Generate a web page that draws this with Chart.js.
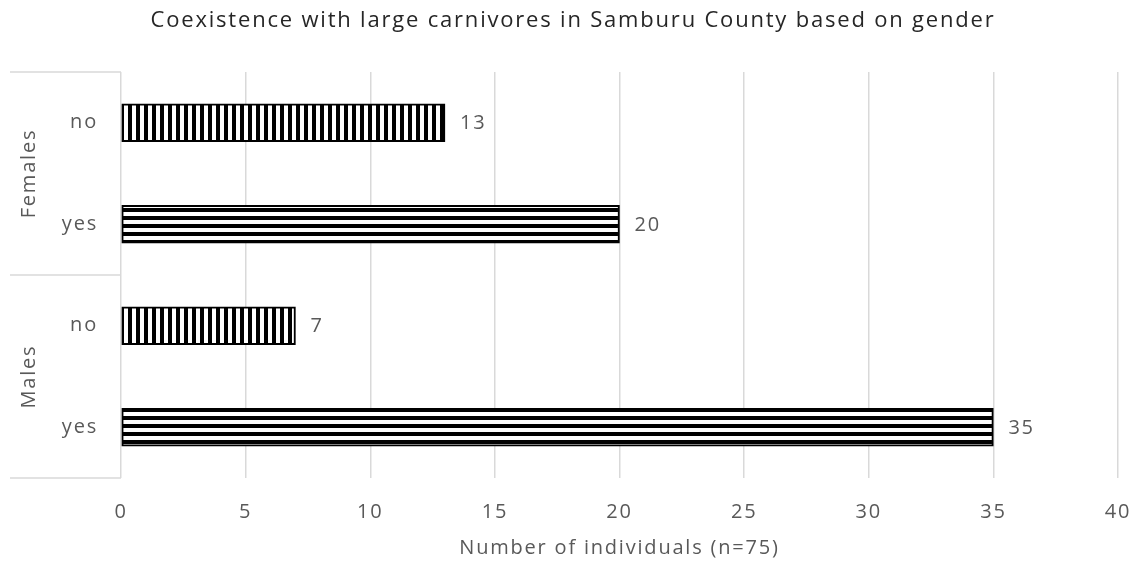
<!DOCTYPE html>
<html>
<head>
<meta charset="utf-8">
<script src="https://cdn.jsdelivr.net/npm/chart.js@4.4.1/dist/chart.umd.min.js"></script>
<style>
  html, body { margin: 0; padding: 0; background: #fff; }
  #wrap { width: 1138px; height: 563px; position: relative; }
</style>
</head>
<body>
<div id="wrap"><canvas id="genderChart"></canvas></div>
<script>
// answers per gender, top to bottom
const answers = ["no", "yes", "no", "yes"];
const groups = ["Females", "Males"];
const counts = [13, 20, 7, 35];
const xTicks = [0, 5, 10, 15, 20, 25, 30, 35, 40];
const chartTitle = "Coexistence with large carnivores in Samburu County based on gender";

const FONT = "'Open Sans', 'Liberation Sans', sans-serif";
const GREY = "#595959";
const SPACING = "1.8px";

// striped fills: vertical for "no", horizontal for "yes"
function stripes(vertical) {
    const c = document.createElement("canvas");
    c.width = 8; c.height = 8;
    const g = c.getContext("2d");
    g.fillStyle = "#fff";
    g.fillRect(0, 0, 8, 8);
    g.fillStyle = "#000";
    if (vertical) g.fillRect(0, 0, 4, 8);
    else g.fillRect(0, 0, 8, 4);
    return g.createPattern(c, "repeat");
}
const noFill = stripes(true);
const yesFill = stripes(false);

// wider letter spacing for every label (canvas state is reset on resize)
const spacing = {
    id: "spacing",
    beforeLayout(chart) { chart.ctx.letterSpacing = SPACING; },
    beforeDraw(chart) { chart.ctx.letterSpacing = SPACING; }
};

// title centred on the whole canvas
const topTitle = {
    id: "topTitle",
    afterDraw(chart) {
        const ctx = chart.ctx;
        ctx.save();
        ctx.fillStyle = "#262626";
        ctx.font = "22px " + FONT;
        ctx.textAlign = "center";
        ctx.textBaseline = "middle";
        ctx.fillText(chartTitle, chart.width / 2 + 4, 21);
        ctx.restore();
    }
};

// group labels + separators on the left of the category axis
const groupBrackets = {
    id: "groupBrackets",
    afterDraw(chart) {
        const ctx = chart.ctx;
        const y = chart.scales.y;
        const area = chart.chartArea;
        const left = 10;
        const step = y.getPixelForValue(1) - y.getPixelForValue(0);
        const edges = [y.getPixelForValue(0) - step / 2, y.getPixelForValue(1) + step / 2, y.getPixelForValue(3) + step / 2];
        ctx.save();
        ctx.strokeStyle = "#d9d9d9";
        ctx.lineWidth = 1.5;
        edges.forEach(e => {
            ctx.beginPath();
            ctx.moveTo(left, e);
            ctx.lineTo(area.left, e);
            ctx.stroke();
        });
        ctx.fillStyle = GREY;
        ctx.font = "20px " + FONT;
        ctx.textAlign = "center";
        ctx.textBaseline = "middle";
        groups.forEach((name, i) => {
            const mid = (edges[i] + edges[i + 1]) / 2;
            ctx.save();
            ctx.translate(29, mid);
            ctx.rotate(-Math.PI / 2);
            ctx.fillText(name, 0, 0);
            ctx.restore();
        });
        ctx.restore();
    }
};

// value labels at the end of each bar
const valueLabels = {
    id: "valueLabels",
    afterDatasetsDraw(chart) {
        const ctx = chart.ctx;
        const meta = chart.getDatasetMeta(0);
        ctx.save();
        ctx.fillStyle = GREY;
        ctx.font = "20px " + FONT;
        ctx.textAlign = "left";
        ctx.textBaseline = "middle";
        meta.data.forEach((bar, i) => {
            ctx.fillText(String(counts[i]), bar.x + 15, bar.y + 1);
        });
        ctx.restore();
    }
};

new Chart(document.getElementById("genderChart"), {
    type: "bar",
    data: {
        labels: answers,
        datasets: [{
            data: counts,
            backgroundColor: answers.map(a => a === "no" ? noFill : yesFill),
            borderColor: "#000",
            borderWidth: 2,
            borderSkipped: false,
            barThickness: 38
        }]
    },
    options: {
        indexAxis: "y",
        responsive: true,
        maintainAspectRatio: false,
        animation: false,
        layout: { padding: { left: 10, right: 20, top: 72, bottom: 0 } },
        plugins: {
            legend: { display: false },
            tooltip: { enabled: false },
            title: { display: false }
        },
        scales: {
            x: {
                min: 0,
                max: 40,
                afterBuildTicks(axis) { axis.ticks = xTicks.map(v => ({ value: v })); },
                afterFit(axis) {
                    axis.height = 85;
                    axis.paddingLeft = 0;
                    axis.paddingRight = 0;
                },
                grid: { color: "#d9d9d9", lineWidth: 1.5, drawTicks: false },
                border: { display: false },
                ticks: { color: GREY, font: { family: FONT, size: 20 }, padding: 22 },
                title: {
                    display: true,
                    text: "Number of individuals (n=75)",
                    color: GREY,
                    font: { family: FONT, size: 20 },
                    padding: { top: 6, bottom: 3 }
                }
            },
            y: {
                afterFit(axis) { axis.width = 111; },
                grid: { display: false },
                border: { display: false },
                ticks: { color: GREY, font: { family: FONT, size: 20 }, padding: 15 }
            }
        }
    },
    plugins: [spacing, topTitle, groupBrackets, valueLabels]
});
</script>
</body>
</html>
